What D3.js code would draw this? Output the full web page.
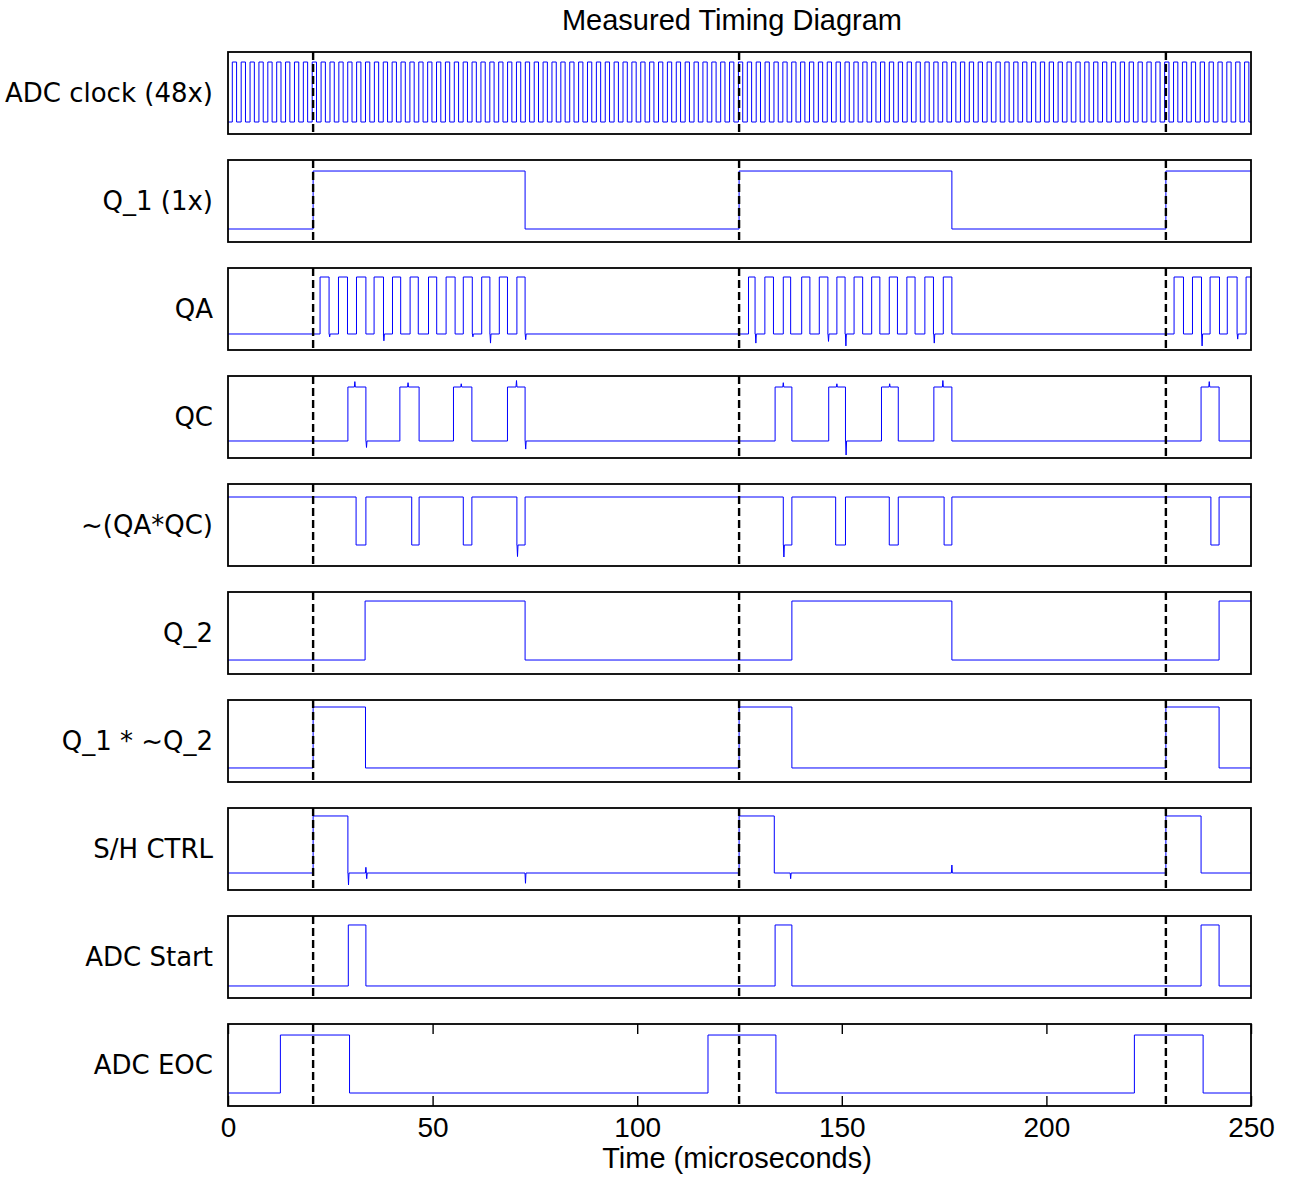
<!DOCTYPE html>
<html>
<head>
<meta charset="utf-8">
<title>Measured Timing Diagram</title>
<script src="https://cdn.jsdelivr.net/npm/d3@7"></script>
<style>
  body { margin: 0; background: #fff; }
  svg { display: block; }
</style>
</head>
<body>
<div id="chart"></div>
<script>
// All times are in microseconds, levels are 0 (low) / 1 (high).
var xTicks = [0, 50, 100, 150, 200, 250];
var markerTimes = [20.8, 124.9, 229.2]; // dashed lines = rising edge of Q_1

var rowLabels = ["ADC clock (48x)", "Q_1 (1x)", "QA", "QC", "~(QA*QC)",
                 "Q_2", "Q_1 * ~Q_2", "S/H CTRL", "ADC Start", "ADC EOC"];

// ADC clock rising edges (each high for clockHigh us)
var clockHigh = 1.05;
var clockRise = [1.05, 3.22, 5.39, 7.56, 9.73, 11.9, 14.07, 16.24, 18.41, 20.58,
  22.75, 24.92, 27.09, 29.26, 31.43, 33.6, 35.77, 37.94, 40.11, 42.28,
  44.45, 46.62, 48.79, 50.96, 53.13, 55.3, 57.47, 59.64, 61.81, 63.98,
  66.15, 68.32, 70.49, 72.66, 74.83, 77.0, 79.17, 81.34, 83.51, 85.68,
  87.85, 90.02, 92.19, 94.36, 96.53, 98.7, 100.87, 103.04, 105.21, 107.38,
  109.55, 111.72, 113.89, 116.06, 118.23, 120.4, 122.57, 124.74, 126.91, 129.08,
  131.25, 133.42, 135.59, 137.76, 139.93, 142.1, 144.27, 146.44, 148.61, 150.78,
  152.95, 155.12, 157.29, 159.46, 161.63, 163.8, 165.97, 168.14, 170.31, 172.48,
  174.65, 176.82, 178.99, 181.16, 183.33, 185.5, 187.67, 189.84, 192.01, 194.18,
  196.35, 198.52, 200.69, 202.86, 205.03, 207.2, 209.37, 211.54, 213.71, 215.88,
  218.05, 220.22, 222.39, 224.56, 226.73, 228.9, 231.07, 233.24, 235.41, 237.58,
  239.75, 241.92, 244.09, 246.26, 248.43];

// toggle times for the other signals (start level given separately)
var q1Edges = [20.8, 72.6, 124.9, 176.9, 229.2];
var qaEdges = [22.5, 24.7, 27.0, 29.2, 31.4, 33.7, 35.7, 38.0, 40.2, 42.2,
  44.5, 46.5, 49.0, 51.0, 53.3, 55.5, 57.5, 59.7, 62.0, 64.0, 66.3, 68.3, 70.6, 72.6,
  127.2, 128.8, 131.2, 133.3, 135.7, 137.5, 140.2, 142.2, 144.5, 146.6, 148.8, 150.8,
  153.0, 155.1, 157.3, 159.3, 161.6, 163.6, 165.9, 167.9, 170.3, 172.4, 174.8, 176.9,
  231.2, 233.5, 235.7, 237.9, 240.0, 242.3, 244.2, 246.6, 248.8];
var qcEdges = [29.3, 33.7, 42.0, 46.7, 55.1, 59.6, 68.3, 72.6,
  133.7, 137.8, 146.8, 150.9, 159.7, 163.8, 172.5, 176.9, 237.8, 242.2];
var nqaqcEdges = [31.3, 33.7, 44.9, 46.7, 57.5, 59.6, 70.6, 72.6,
  135.7, 137.8, 148.5, 150.9, 161.6, 163.8, 175.0, 176.9, 240.2, 242.2];
var q2Edges = [33.5, 72.6, 137.8, 176.9, 242.2];
var q1nq2Edges = [20.8, 33.6, 124.9, 137.8, 229.2, 242.2];
var shEdges = [20.8, 29.3, 124.9, 133.5, 229.2, 237.8];
var startEdges = [29.4, 33.7, 133.7, 137.8, 237.8, 242.2];
var eocEdges = [12.8, 29.7, 117.3, 133.9, 221.5, 238.3];

var startLevels = [0, 0, 0, 0, 1, 0, 0, 0, 0, 0];

// visible spikes / overshoots on the scope traces: [time, level]
var qaGlitches = [[24.85, -0.05], [38.1, -0.12], [59.85, -0.05], [64.15, -0.16],
  [72.75, -0.1], [129.0, -0.16], [146.75, -0.13], [151.0, -0.21], [172.6, -0.16],
  [238.05, -0.21], [246.75, -0.09]];
var qcGlitches = [[31.0, 1.1], [33.85, -0.12], [44.0, 1.08], [57.0, 1.06], [70.5, 1.12],
  [72.75, -0.15], [135.7, 1.08], [148.8, 1.06], [151.05, -0.26], [161.7, 1.06],
  [174.7, 1.12], [239.8, 1.1]];
var nqaqcGlitches = [[70.75, -0.24], [135.85, -0.25]];
var shGlitches = [[29.45, -0.21], [33.7, 0.1], [33.9, -0.1], [72.7, -0.18],
  [137.5, -0.1], [176.9, 0.14]];

// y limits of each panel (so the low/high levels sit where they do in the plot)
var yLimits = [[-0.2, 1.167], [-0.224, 1.19], [-0.281, 1.158], [-0.315, 1.204],
  [-0.4375, 1.271], [-0.237, 1.153], [-0.23, 1.115], [-0.298, 1.14],
  [-0.197, 1.147], [-0.224, 1.19]];

var clockEdges = [];
clockRise.forEach(function(r){ clockEdges.push(r, r + clockHigh); });

var edgeLists = [clockEdges, q1Edges, qaEdges, qcEdges, nqaqcEdges,
                 q2Edges, q1nq2Edges, shEdges, startEdges, eocEdges];
var glitchLists = [[], [], qaGlitches, qcGlitches, nqaqcGlitches, [], [], shGlitches, [], []];

function buildTrace(start, edges, glitches){
  // walk through edges and spikes in time order, emit [t, level] points
  var events = edges.map(function(t){ return {t: t, edge: true}; })
    .concat(glitches.map(function(g){ return {t: g[0], v: g[1], edge: false}; }));
  events.sort(function(a, b){ return a.t - b.t; });
  var level = start;
  var pts = [[0, start]];
  events.forEach(function(e){
    if(e.edge){
      pts.push([e.t, level]);
      level = 1 - level;
      pts.push([e.t, level]);
    } else {
      pts.push([e.t - 0.12, level], [e.t, e.v], [e.t + 0.12, level]);
    }
  });
  pts.push([250, level]);
  return pts;
}

var W = 1291, H = 1178;
var left = 228, right = 1251;
var panelTop0 = 52, panelStep = 108, panelH = 82;

var svg = d3.select('#chart').append('svg')
  .attr('width', W).attr('height', H);

var x = d3.scaleLinear().domain([0, 250]).range([left, right]);

svg.append('text')
  .attr('x', 732).attr('y', 30)
  .attr('text-anchor', 'middle')
  .style('font-family', '"Liberation Sans", Arial, sans-serif')
  .style('font-size', '29px')
  .text('Measured Timing Diagram');

rowLabels.forEach(function(name, i){
  var top = panelTop0 + i * panelStep;
  var y = d3.scaleLinear().domain(yLimits[i]).range([top + panelH, top]);
  var g = svg.append('g');

  var line = d3.line()
    .x(function(d){ return x(d[0]); })
    .y(function(d){ return y(d[1]); });

  g.append('path')
    .datum(buildTrace(startLevels[i], edgeLists[i], glitchLists[i]))
    .attr('d', line)
    .attr('fill', 'none')
    .attr('stroke', '#0000ff')
    .attr('stroke-width', 1);

  markerTimes.forEach(function(t){
    g.append('line')
      .attr('x1', x(t)).attr('x2', x(t))
      .attr('y1', top).attr('y2', top + panelH)
      .attr('stroke', '#000')
      .attr('stroke-width', 2.4)
      .attr('stroke-dasharray', '8,4');
  });

  g.append('rect')
    .attr('x', left).attr('y', top)
    .attr('width', right - left).attr('height', panelH)
    .attr('fill', 'none')
    .attr('stroke', '#000')
    .attr('stroke-width', 1.8);

  g.append('text')
    .attr('x', 213).attr('y', top + panelH / 2)
    .attr('dy', '0.36em')
    .attr('text-anchor', 'end')
    .style('font-family', '"DejaVu Sans", Verdana, sans-serif')
    .style('font-size', '26px')
    .text(name);

  // only the bottom panel carries the time axis
  if(i === rowLabels.length - 1){
    var bottomAxis = g.append('g')
      .attr('transform', 'translate(0,' + (top + panelH) + ')')
      .call(d3.axisBottom(x).tickValues(xTicks).tickSize(-10).tickPadding(11));
    var topAxis = g.append('g')
      .attr('transform', 'translate(0,' + top + ')')
      .call(d3.axisTop(x).tickValues(xTicks).tickSize(-10).tickFormat(''));
    [bottomAxis, topAxis].forEach(function(a){
      a.select('.domain').remove();
      a.selectAll('line').attr('stroke', '#000').attr('stroke-width', 1.4);
    });
    bottomAxis.selectAll('text')
      .style('font-family', '"Liberation Sans", Arial, sans-serif')
      .style('font-size', '28px')
      .attr('fill', '#000');

    svg.append('text')
      .attr('x', 737).attr('y', 1168)
      .attr('text-anchor', 'middle')
      .style('font-family', '"Liberation Sans", Arial, sans-serif')
      .style('font-size', '29px')
      .text('Time (microseconds)');
  }
});
</script>
</body>
</html>
